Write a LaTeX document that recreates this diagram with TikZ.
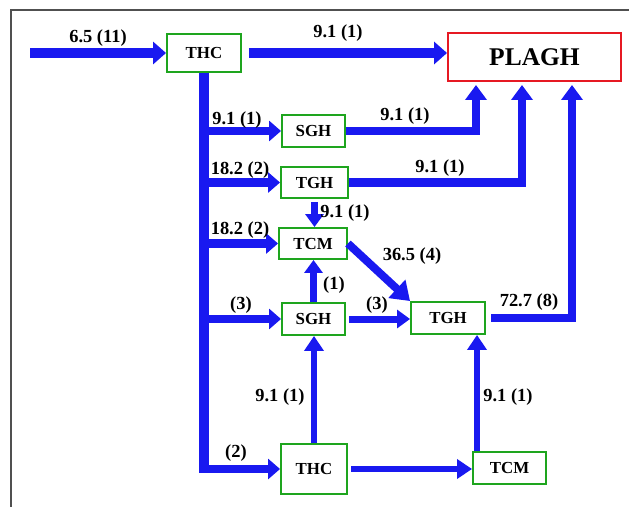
\documentclass[tikz,border=0pt]{standalone}
\usepackage{fontspec}
\setmainfont{Liberation Serif}
\definecolor{flowblue}{RGB}{25,25,240}
\definecolor{boxgreen}{RGB}{30,165,30}
\definecolor{boxred}{RGB}{230,25,35}
\definecolor{framegray}{RGB}{80,80,80}
\usetikzlibrary{arrows.meta,positioning,calc}

\begin{document}
\begin{tikzpicture}[x=0.02cm, y=-0.02cm,
  every node/.style={font=\bfseries\fontsize{10.5}{12}\selectfont},
  box/.style={draw=boxgreen, line width=1.1pt, fill=white, inner sep=0pt,
    font=\bfseries\fontsize{9.6}{11}\selectfont},
  trunk/.style={draw=flowblue, line width=0.2cm},
  bigflow/.style={draw=flowblue, line width=0.2cm, -{Triangle[length=0.26cm,width=0.44cm]}},
  upflow/.style={draw=flowblue, line width=0.17cm, line join=miter, -{Triangle[length=0.3cm,width=0.42cm]}},
  flow/.style={draw=flowblue, line width=0.17cm, -{Triangle[length=0.24cm,width=0.4cm]}},
  midflow/.style={draw=flowblue, line width=0.14cm, -{Triangle[length=0.26cm,width=0.36cm]}},
  thinflow/.style={draw=flowblue, line width=0.12cm, -{Triangle[length=0.3cm,width=0.38cm]}}]
  \useasboundingbox (0,0) rectangle (629,507);

  % Frame (top and left edges)
  \draw[framegray, line width=0.9pt] (11,507) -- (11,10) -- (629,10);

  % Boxes
  \node[box, minimum width=1.48cm, minimum height=0.76cm] (thca) at (204,53) {THC};
  \node[draw=boxred, line width=1.1pt, inner sep=0pt, minimum width=3.46cm, minimum height=0.96cm,
    font=\bfseries\fontsize{14.5}{16}\selectfont] (plagh) at (534.5,57) {PLAGH};
  \node[box, minimum width=1.26cm, minimum height=0.64cm] (sgha) at (313.5,131) {SGH};
  \node[box, minimum width=1.34cm, minimum height=0.62cm] (tgha) at (314.5,182.5) {TGH};
  \node[box, minimum width=1.36cm, minimum height=0.62cm] (tcma) at (313,243.5) {TCM};
  \node[box, minimum width=1.26cm, minimum height=0.64cm] (sghb) at (313.5,319) {SGH};
  \node[box, minimum width=1.48cm, minimum height=0.64cm] (tghb) at (448,318) {TGH};
  \node[box, minimum width=1.32cm, minimum height=1.0cm] (thcb) at (314,469) {THC};
  \node[box, minimum width=1.46cm, minimum height=0.64cm] (tcmb) at (509.5,468) {TCM};

  % Free ends
  \coordinate (src) at (30,53);
  \coordinate (trunkend) at (204,473);
  \coordinate (ina) at (476,85);
  \coordinate (inb) at (522,85);
  \coordinate (inc) at (572,85);

  % Main line
  \draw[bigflow] (src) -- (thca.west);
  \draw[bigflow, shorten <=4] (thca.east) -- (thca.east -| plagh.west);
  \draw[trunk] (thca.south) -- (trunkend);

  % Branches off the trunk
  \draw[flow] (thca.south |- sgha.west) -- (sgha.west);
  \draw[flow] (thca.south |- tgha.west) -- (tgha.west);
  \draw[flow] (thca.south |- tcma.west) -- (tcma.west);
  \draw[flow] (thca.south |- sghb.west) -- (sghb.west);
  \draw[flow] (thca.south |- thcb.west) -- (thcb.west);

  % Into PLAGH
  \draw[upflow] (sgha.east) -| (ina);
  \draw[upflow] (tgha.east) -| (inb);
  \draw[upflow, shorten <=3] (tghb.east) -| (inc);

  % Middle links
  \draw[midflow, shorten <=2] (tgha.south) -- (tgha.south |- tcma.north);
  \draw[midflow] (sghb.north) -- (sghb.north |- tcma.south);
  \draw[draw=flowblue, line width=0.16cm, -{Triangle[length=0.36cm,width=0.48cm]}]
    (tcma.east) -- (tghb.north west);
  \draw[midflow, shorten <=2] (sghb.east) -- (sghb.east -| tghb.west);

  % Bottom links
  \draw[thinflow] (thcb.north) -- (thcb.north |- sghb.south);
  \draw[thinflow, shorten <=2] (thcb.east) -- (thcb.east -| tcmb.west);
  \draw[thinflow] ([xshift=-0.65cm]tcmb.north) -- ([xshift=-0.65cm]tcmb.north |- tghb.south);

  % Flow labels
  \node (la) at (98,38) {6.5 (11)};
  \node (lb) at (338,33) {9.1 (1)};
  \node (lc) at (237,120) {9.1 (1)};
  \node (ld) at (240,170) {18.2 (2)};
  \node (le) at (240,230) {18.2 (2)};
  \node (lf) at (241,305) {(3)};
  \node (lg) at (236,453) {(2)};
  \node (lh) at (280,397) {9.1 (1)};
  \node (li) at (405,116) {9.1 (1)};
  \node (lj) at (440,168) {9.1 (1)};
  \node (lk) at (345,213) {9.1 (1)};
  \node (ll) at (412,256) {36.5 (4)};
  \node (lm) at (334,285) {(1)};
  \node (ln) at (377,305) {(3)};
  \node (lo) at (529,302) {72.7 (8)};
  \node (lp) at (508,397) {9.1 (1)};
\end{tikzpicture}
\end{document}
